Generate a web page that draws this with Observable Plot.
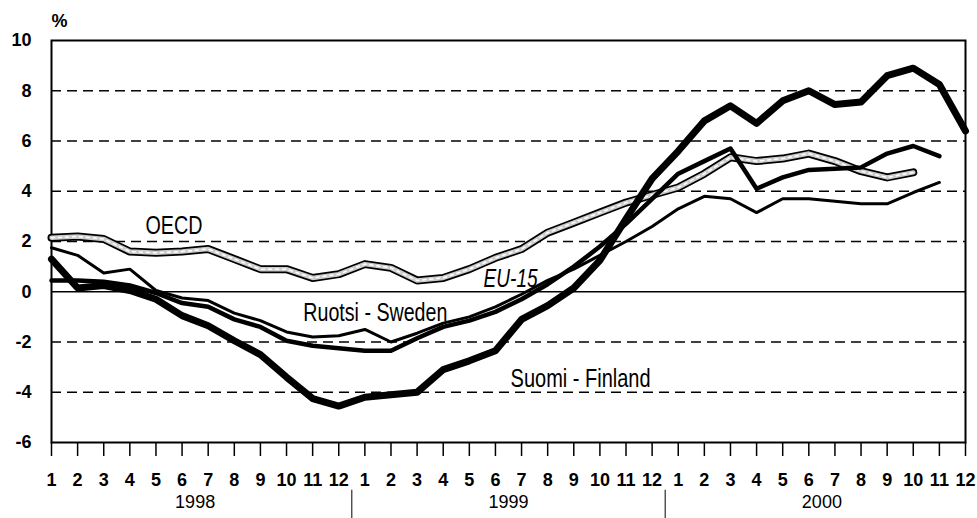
<!DOCTYPE html>
<html><head><meta charset="utf-8">
<script src="https://cdn.jsdelivr.net/npm/d3@7"></script>
<script src="https://cdn.jsdelivr.net/npm/@observablehq/plot@0.6"></script>
<style>body{margin:0;background:#fff} svg{display:block}</style>
</head><body><div id="chart"></div>
<script>
const years = ["1998", "1999", "2000"];
const monthTicks = ["1","2","3","4","5","6","7","8","9","10","11","12",
                    "1","2","3","4","5","6","7","8","9","10","11","12",
                    "1","2","3","4","5","6","7","8","9","10","11","12"];
const yTicks = [-6, -4, -2, 0, 2, 4, 6, 8, 10];
const gridValues = [-4, -2, 2, 4, 6, 8];

const finland = [1.3, 0.15, 0.25, 0.05, -0.3, -0.95, -1.35, -1.95, -2.5, -3.4, -4.25, -4.55,
                 -4.2, -4.1, -4.0, -3.1, -2.75, -2.35, -1.1, -0.55, 0.15, 1.25, 2.9, 4.5,
                 5.6, 6.8, 7.4, 6.7, 7.6, 8.0, 7.45, 7.55, 8.6, 8.9, 8.25, 6.4];
const sweden = [0.45, 0.45, 0.4, 0.25, -0.05, -0.45, -0.6, -1.1, -1.4, -1.95, -2.15, -2.25,
                -2.35, -2.35, -1.85, -1.4, -1.15, -0.8, -0.3, 0.3, 1.0, 1.8, 2.7, 3.7,
                4.7, 5.2, 5.7, 4.1, 4.55, 4.85, 4.9, 4.95, 5.5, 5.8, 5.4, null];
const eu15 = [1.75, 1.45, 0.75, 0.9, 0.05, -0.25, -0.35, -0.85, -1.15, -1.6, -1.8, -1.75,
              -1.5, -2.0, -1.65, -1.25, -1.0, -0.6, -0.1, 0.45, 0.9, 1.45, 2.0, 2.6,
              3.3, 3.8, 3.7, 3.15, 3.7, 3.7, 3.6, 3.5, 3.5, 3.95, 4.35, null];
const oecd = [2.15, 2.2, 2.1, 1.6, 1.55, 1.6, 1.7, 1.3, 0.9, 0.9, 0.55, 0.7,
              1.1, 0.95, 0.45, 0.55, 0.9, 1.35, 1.7, 2.35, 2.75, 3.15, 3.55, 3.85,
              4.15, 4.7, 5.35, 5.2, 5.3, 5.5, 5.2, 4.8, 4.55, 4.75, null, null];

const labelsPlain = [
  {text: "OECD", i: 4.69, v: 2.6},
  {text: "Ruotsi - Sweden", i: 12.4, v: -0.85},
  {text: "Suomi - Finland", i: 20.26, v: -3.46}
];
const labelsItalic = [{text: "EU-15", i: 17.58, v: 0.5}];
// rendered widths of the (condensed) labels in the reference, px
const labelWidths = {"OECD": 57, "Ruotsi - Sweden": 144, "Suomi - Finland": 140, "EU-15": 54};

const series = vals => vals.map((v, i) => ({i, v})).filter(d => d.v != null);
const lineOpts = {x: "i", y: "v", stroke: "black", strokeLinejoin: "round", strokeLinecap: "round"};
const sans = "'Liberation Sans', Arial, sans-serif";

const chart = Plot.plot({
  width: 977, height: 518,
  marginLeft: 51, marginRight: 12, marginTop: 40, marginBottom: 76,
  style: {fontFamily: sans, background: "white", color: "black"},
  x: {domain: [0, 35]},
  y: {domain: [-6, 10]},
  marks: [
    Plot.ruleY(gridValues, {stroke: "black", strokeWidth: 1.4, strokeDasharray: "10,6"}),
    Plot.ruleY([0], {stroke: "black", strokeWidth: 1.6}),
    Plot.frame({stroke: "black", strokeWidth: 2}),
    Plot.axisY({ticks: yTicks, tickSize: 0, tickPadding: 20, tickFormat: d => String(d),
                fontSize: 18, fontWeight: "bold", label: null}),
    Plot.axisX({ticks: d3.range(36), tickSize: 14, tickPadding: 17, tickFormat: i => monthTicks[i],
                fontSize: 18, fontWeight: "bold", label: null, strokeWidth: 1.5}),
    Plot.ruleX([11.5, 23.5], {y1: -7.9, y2: -9.3, stroke: "black", strokeWidth: 1}),
    Plot.text(years, {x: (d, k) => k * 12 + 5.5, frameAnchor: "bottom", dy: 65, fontSize: 18}),
    Plot.text(["%"], {frameAnchor: "top-left", lineAnchor: "middle", dx: 0, dy: -19, fontSize: 18, fontWeight: "bold"}),
    Plot.line(series(oecd), {...lineOpts, strokeWidth: 8}),
    Plot.line(series(oecd), {...lineOpts, stroke: "#cccccc", strokeWidth: 4.5}),
    Plot.line(series(oecd), {...lineOpts, stroke: "white", strokeWidth: 1.5, strokeDasharray: "3,4"}),
    Plot.line(series(eu15), {...lineOpts, strokeWidth: 3}),
    Plot.line(series(sweden), {...lineOpts, strokeWidth: 4.5}),
    Plot.line(series(finland), {...lineOpts, strokeWidth: 7}),
    Plot.text(labelsPlain, {x: "i", y: "v", text: "text", fontSize: 25, fill: "black"}),
    Plot.text(labelsItalic, {x: "i", y: "v", text: "text", fontSize: 25, fontStyle: "italic", fill: "black"})
  ]
});
chart.querySelectorAll("text").forEach(t => {
  const w = labelWidths[t.textContent];
  if (w) {
    t.setAttribute("textLength", w);
    t.setAttribute("lengthAdjust", "spacingAndGlyphs");
  }
});
document.getElementById("chart").appendChild(chart);
</script>
</body></html>
